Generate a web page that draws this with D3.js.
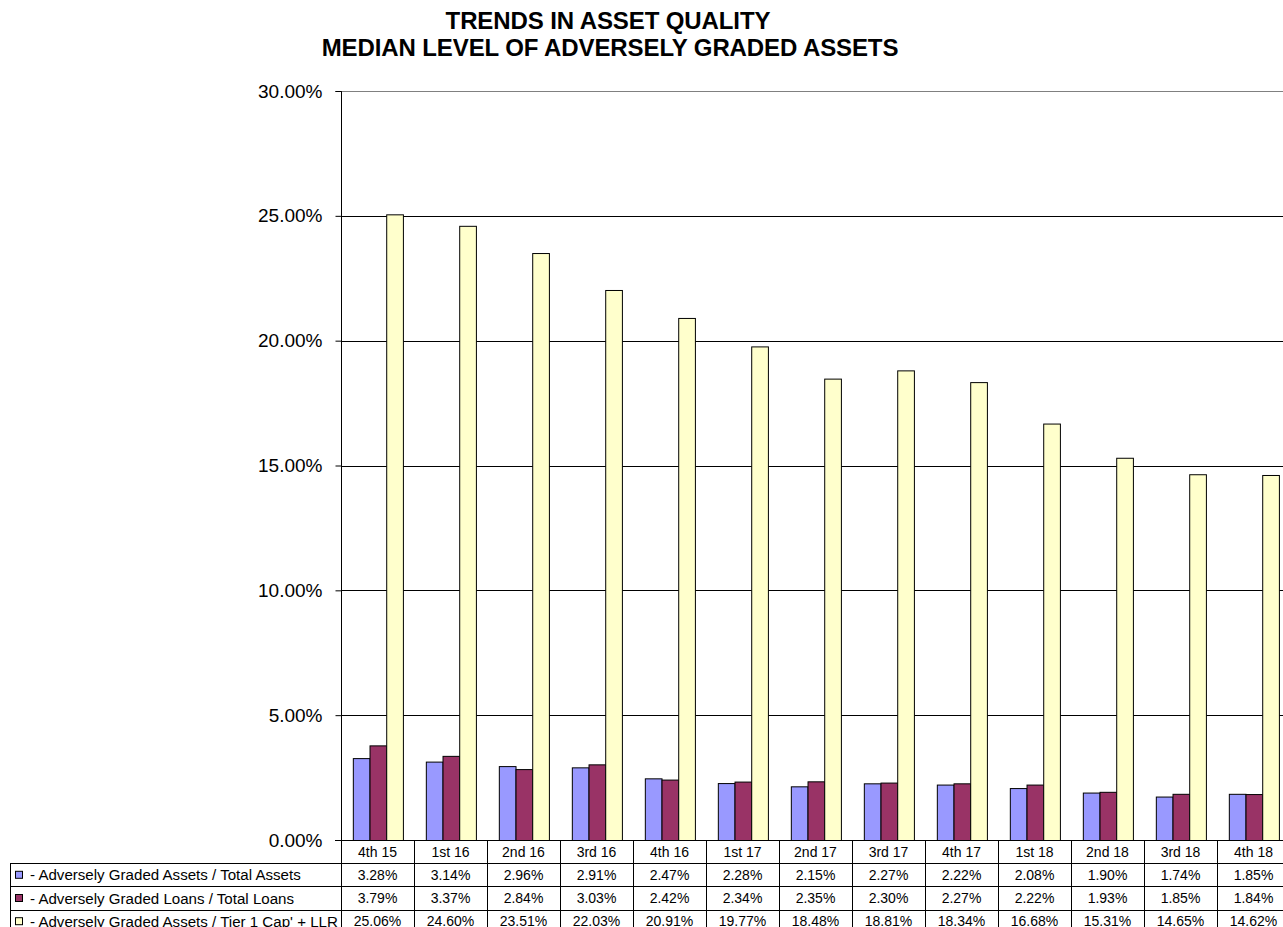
<!DOCTYPE html>
<html>
<head>
<meta charset="utf-8">
<script src="https://cdn.jsdelivr.net/npm/d3@7/dist/d3.min.js"></script>
<style>
  html, body { margin: 0; padding: 0; background: #fff; overflow: hidden; }
  svg { display: block; font-family: "Liberation Sans", Arial, sans-serif; }
</style>
</head>
<body>
<svg id="chart" width="1283" height="927"></svg>
<script>
// Quarter labels
const quarters = ["4th 15", "1st 16", "2nd 16", "3rd 16", "4th 16", "1st 17", "2nd 17",
                  "3rd 17", "4th 17", "1st 18", "2nd 18", "3rd 18", "4th 18"];

// Series values (percent)
const assetsToTotalAssets = [3.28, 3.14, 2.96, 2.91, 2.47, 2.28, 2.15, 2.27, 2.22, 2.08, 1.90, 1.74, 1.85];
const loansToTotalLoans   = [3.79, 3.37, 2.84, 3.03, 2.42, 2.34, 2.35, 2.30, 2.27, 2.22, 1.93, 1.85, 1.84];
const assetsToTier1LLR    = [25.06, 24.60, 23.51, 22.03, 20.91, 19.77, 18.48, 18.81, 18.34, 16.68, 15.31, 14.65, 14.62];

const seriesNames = [
  "- Adversely Graded Assets / Total Assets",
  "- Adversely Graded Loans / Total Loans",
  "- Adversely Graded Assets / Tier 1 Cap' + LLR"
];
const seriesColors = ["#9999FF", "#993366", "#FFFFCC"];

const yTicks = [0, 5, 10, 15, 20, 25, 30];

const series = [assetsToTotalAssets, loansToTotalLoans, assetsToTier1LLR].map((vals, i) => ({
  name: seriesNames[i], color: seriesColors[i], values: vals
}));

const svg = d3.select("#chart");

const plot = { left: 341, right: 1290, top: 91, bottom: 840 };

const x = d3.scaleBand().domain(quarters).range([plot.left, plot.right]).padding(0);
const bw = x.bandwidth();
const xInner = d3.scaleBand().domain(d3.range(series.length))
  .range([bw * 0.162, bw * 0.848]).padding(0);
const y = d3.scaleLinear().domain([0, 30]).range([plot.bottom, plot.top]);

// Title
const title = svg.append("g").attr("font-weight", "bold").attr("font-size", 24)
  .attr("text-anchor", "middle").attr("fill", "#000").attr("letter-spacing", -0.1);
title.append("text").attr("x", 608).attr("y", 29).text("TRENDS IN ASSET QUALITY");
title.append("text").attr("x", 610).attr("y", 56).text("MEDIAN LEVEL OF ADVERSELY GRADED ASSETS");

// Horizontal gridlines
svg.append("g").selectAll("line").data(yTicks.filter(t => t > 0)).join("line")
  .attr("x1", plot.left).attr("x2", 1283)
  .attr("y1", d => Math.round(y(d)) + 0.5).attr("y2", d => Math.round(y(d)) + 0.5)
  .attr("stroke", d => d === 30 ? "#808080" : "#000").attr("stroke-width", 1);

// Y axis
const yAxis = d3.axisLeft(y).tickValues(yTicks).tickSize(6).tickPadding(13)
  .tickFormat(d => d3.format(".2f")(d) + "%");
const yg = svg.append("g").attr("transform", `translate(${plot.left + 0.5},0)`).call(yAxis);
yg.select(".domain").attr("stroke", "#000").attr("d", `M-6,${plot.top + 0.5}H0V${plot.bottom + 0.5}`);
yg.selectAll(".tick line").attr("stroke", "#000");
yg.selectAll(".tick text").attr("font-size", 19).attr("fill", "#000")
  .attr("font-family", "'Liberation Sans', Arial, sans-serif");

// Bars
const groups = svg.append("g").selectAll("g").data(quarters).join("g")
  .attr("transform", d => `translate(${x(d)},0)`);
groups.selectAll("rect").data((q, qi) => series.map((s, si) => ({ si, v: s.values[qi], color: s.color })))
  .join("rect")
  .attr("x", d => xInner(d.si) + 0.5)
  .attr("width", xInner.bandwidth())
  .attr("y", d => y(d.v) + 0.5)
  .attr("height", d => y(0) - y(d.v))
  .attr("fill", d => d.color)
  .attr("stroke", "#000").attr("stroke-width", 1);

// X axis baseline
svg.append("line").attr("x1", plot.left - 6).attr("x2", 1283)
  .attr("y1", plot.bottom + 0.5).attr("y2", plot.bottom + 0.5).attr("stroke", "#000");

// Data table
const rowH = 23.2;
const tableTop = plot.bottom;
const legendLeft = 10;
const table = svg.append("g").attr("font-size", 14).attr("fill", "#000");

// Vertical cell borders
table.selectAll("line.v").data(quarters).join("line").attr("class", "v")
  .attr("x1", d => Math.round(x(d)) + 0.5).attr("x2", d => Math.round(x(d)) + 0.5)
  .attr("y1", tableTop).attr("y2", 927).attr("stroke", "#000");

// Horizontal row borders
table.selectAll("line.h").data(d3.range(1, 5)).join("line").attr("class", "h")
  .attr("x1", legendLeft).attr("x2", 1283)
  .attr("y1", d => Math.round(tableTop + d * rowH) + 0.5)
  .attr("y2", d => Math.round(tableTop + d * rowH) + 0.5)
  .attr("stroke", "#000");
table.append("line")
  .attr("x1", legendLeft + 0.5).attr("x2", legendLeft + 0.5)
  .attr("y1", Math.round(tableTop + rowH)).attr("y2", 927).attr("stroke", "#000");

// Quarter header labels
table.selectAll("text.q").data(quarters).join("text").attr("class", "q")
  .attr("x", d => x(d) + bw / 2).attr("y", tableTop + rowH / 2 + 5)
  .attr("text-anchor", "middle").text(d => d);

// Values
series.forEach((s, si) => {
  const ry = tableTop + (si + 1) * rowH;
  table.selectAll(`text.s${si}`).data(s.values).join("text").attr("class", `s${si}`)
    .attr("x", (d, i) => x(quarters[i]) + bw / 2).attr("y", ry + rowH / 2 + 5)
    .attr("text-anchor", "middle").text(d => d.toFixed(2) + "%");
  // Legend key
  table.append("rect").attr("x", 15.5).attr("y", ry + rowH / 2 - 3.5)
    .attr("width", 7).attr("height", 7).attr("fill", s.color).attr("stroke", "#000");
  table.append("text").attr("x", 30).attr("y", ry + rowH / 2 + 5.5)
    .attr("font-size", 15.1).text(s.name);
});
</script>
</body>
</html>
